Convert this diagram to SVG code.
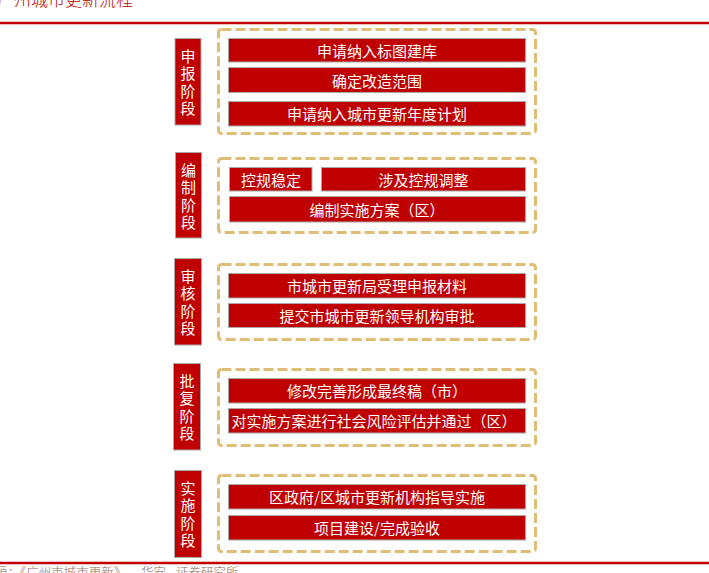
<svg xmlns="http://www.w3.org/2000/svg" width="709" height="573" viewBox="0 0 709 573">
<style>
text{font-family:"Noto Sans CJK SC","Liberation Sans",sans-serif}
.lab rect{fill:#c00000;stroke:#a8a8a8;stroke-width:1}
.lab text{fill:#fff;font-size:15px;text-anchor:middle;dominant-baseline:central}
.bar rect{fill:#c00000;stroke:#a8a8a8;stroke-width:1}
.bar text{fill:#fff;font-size:15px;text-anchor:middle;dominant-baseline:central}
.grp{fill:none;stroke:#dfbd76;stroke-width:3;stroke-dasharray:10 4}
</style>
<rect width="709" height="573" fill="#fff"/>
<text x="-3" y="6" style="font-size:17px;fill:#c00000;font-weight:300">广州城市更新流程</text>
<line x1="0" y1="23" x2="709" y2="23" stroke="#c00000" stroke-width="2.5"/>
<line x1="0" y1="563" x2="709" y2="563" stroke="#c00000" stroke-width="2.5"/>
<text y="577" style="font-size:12.5px;fill:#8c6d5a;font-weight:300"><tspan x="-42.5">资料来源：《广州市城市更新》</tspan><tspan x="141">华安</tspan><tspan x="176">证券研究所</tspan></text>

<g id="stage1">
<g class="lab"><rect x="175" y="38.5" width="26" height="86.5"/>
<text x="188" y="55">申</text><text x="188" y="72.5">报</text><text x="188" y="90">阶</text><text x="188" y="107.5">段</text></g>
<rect class="grp" x="218.5" y="29.5" width="317" height="104" rx="3"/>
<g class="bar"><rect x="228.5" y="38.5" width="297" height="23.5"/><text x="377" y="50">申请纳入标图建库</text></g>
<g class="bar"><rect x="228.5" y="67.5" width="297" height="25"/><text x="377" y="80">确定改造范围</text></g>
<g class="bar"><rect x="228.5" y="101.5" width="297" height="24.5"/><text x="377" y="113.5">申请纳入城市更新年度计划</text></g>
</g>

<g id="stage2">
<g class="lab"><rect x="175.5" y="152.5" width="26" height="85.5"/>
<text x="188.5" y="169">编</text><text x="188.5" y="186.5">制</text><text x="188.5" y="204">阶</text><text x="188.5" y="221.5">段</text></g>
<rect class="grp" x="218.5" y="158.5" width="317" height="74" rx="3"/>
<g class="bar"><rect x="229.5" y="167.5" width="82.5" height="23.5"/><text x="271" y="179">控规稳定</text></g>
<g class="bar"><rect x="321.5" y="167.5" width="204" height="23.5"/><text x="423.5" y="179">涉及控规调整</text></g>
<g class="bar"><rect x="229.5" y="196.5" width="296" height="25.5"/><text x="377" y="209">编制实施方案（区）</text></g>
</g>

<g id="stage3">
<g class="lab"><rect x="174.5" y="258.5" width="27" height="86.5"/>
<text x="188" y="275">审</text><text x="188" y="292.5">核</text><text x="188" y="310">阶</text><text x="188" y="327.5">段</text></g>
<rect class="grp" x="218.5" y="264.5" width="317" height="75" rx="3"/>
<g class="bar"><rect x="228.5" y="273.5" width="297" height="24.5"/><text x="377" y="285.5">市城市更新局受理申报材料</text></g>
<g class="bar"><rect x="228.5" y="303.5" width="297" height="24"/><text x="377" y="315.5">提交市城市更新领导机构审批</text></g>
</g>

<g id="stage4">
<g class="lab"><rect x="173.5" y="363.5" width="27" height="86.5"/>
<text x="187" y="380">批</text><text x="187" y="397.5">复</text><text x="187" y="415">阶</text><text x="187" y="432.5">段</text></g>
<rect class="grp" x="218.5" y="369.5" width="317" height="76" rx="3"/>
<g class="bar"><rect x="228.5" y="378.5" width="297" height="24.5"/><text x="377" y="390.5">修改完善形成最终稿（市）</text></g>
<g class="bar"><rect x="228.5" y="408.5" width="297" height="24.5"/><text x="374" y="420.5">对实施方案进行社会风险评估并通过（区）</text></g>
</g>

<g id="stage5">
<g class="lab"><rect x="174.5" y="470.5" width="27" height="87"/>
<text x="188" y="487">实</text><text x="188" y="504.5">施</text><text x="188" y="522">阶</text><text x="188" y="539.5">段</text></g>
<rect class="grp" x="218.5" y="475.5" width="317" height="76" rx="3"/>
<g class="bar"><rect x="228.5" y="484.5" width="297" height="24.5"/><text x="377" y="496.5">区政府/区城市更新机构指导实施</text></g>
<g class="bar"><rect x="228.5" y="515.5" width="297" height="24.5"/><text x="377" y="527.5">项目建设/完成验收</text></g>
</g>
<g id="connectors"></g>
</svg>
